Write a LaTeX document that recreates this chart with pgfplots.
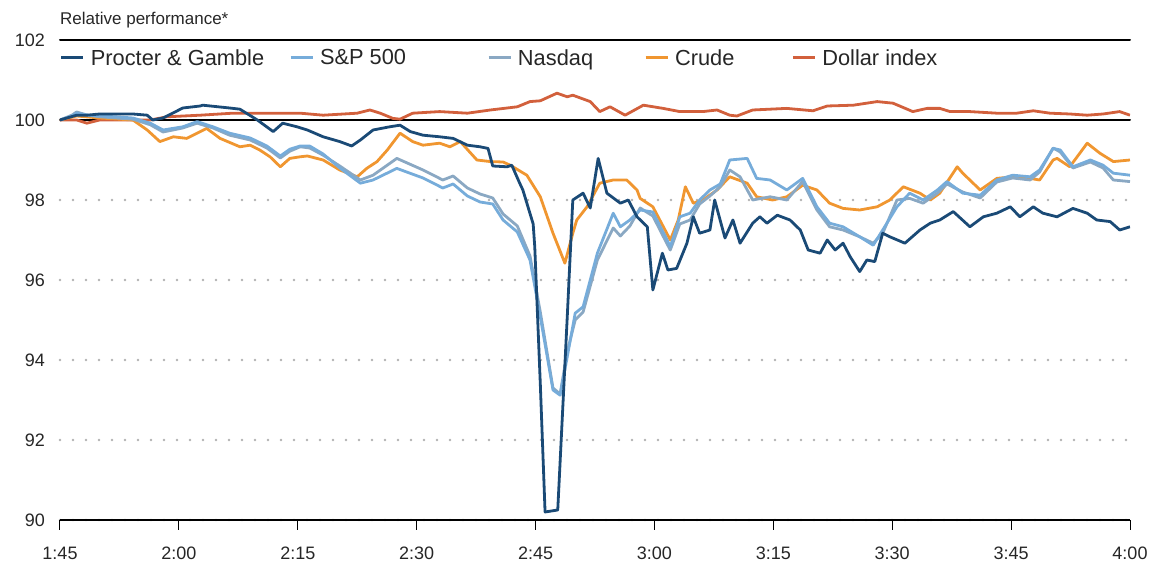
\documentclass[border=0pt]{standalone}
\usepackage{fontspec}
\setmainfont{Liberation Sans}
\usepackage{pgfplots}
\pgfplotsset{compat=1.18}
\definecolor{pgc}{RGB}{26,74,118}
\definecolor{spc}{RGB}{118,172,218}
\definecolor{ndc}{RGB}{138,168,195}
\definecolor{crc}{RGB}{240,150,48}
\definecolor{dlc}{RGB}{210,96,60}
\begin{document}
\begin{tikzpicture}
\begin{axis}[
  name=ax,
  width=1070pt, height=480pt, scale only axis,
  xmin=0, xmax=135, ymin=90, ymax=102,
  axis lines*=left, axis line style={-},
  y axis line style={draw=none},
  x axis line style={line width=2pt, black},
  xtick={0,15,...,135},
  xticklabels={1:45,2:00,2:15,2:30,2:45,3:00,3:15,3:30,3:45,4:00},
  ytick={90,92,94,96,98},
  extra y ticks={100,102},
  extra y tick style={grid=major, major grid style={draw=black, solid, line width=2pt}},
  ymajorgrids,
  major grid style={draw=black!30, line width=2.6pt, line cap=round, dash pattern=on 0pt off 13pt},
  tick align=outside,
  major tick length=10pt,
  xtick style={black, line width=1pt},
  ytick style={draw=none},
  /pgf/number format/assume math mode=true,
  yticklabel style={anchor=east, inner sep=0pt, xshift=-5pt, font=\fontsize{18}{20}\selectfont, text=black!85},
  xticklabel style={anchor=north, inner sep=0pt, yshift=-17pt, font=\fontsize{18}{20}\selectfont, text=black!85},
  title={Relative performance*},
  title style={at={(0,1)}, anchor=base west, yshift=9pt, inner sep=0pt, font=\fontsize{17}{20}\selectfont, text=black!85},
  legend image code/.code={\draw[#1, line width=3pt] (0pt,0pt) -- (22pt,0pt); \path (28pt,0pt);},
  legend style={at={(0,0.9625)}, anchor=west, draw=none, fill=none, inner sep=0pt, outer sep=0pt,
    font=\fontsize{21.8}{24}\selectfont, text=black!85, legend columns=5, nodes={inner sep=0pt},
    column sep=0pt},
  legend cell align=left,
  reverse legend,
  every axis plot/.append style={line width=2.8pt, line join=round},
]
% Dollar index
\addplot[dlc] coordinates {(0,100.0)(2.1,100.0)(3.4,99.92)(5.0,100.0)(11.4,100.0)(13.5,100.08)(17.7,100.12)(21.8,100.17)(26.1,100.17)(30.3,100.17)(33.2,100.12)(37.5,100.17)(39.1,100.25)(40.4,100.17)(42.0,100.04)(42.9,100.02)(44.5,100.17)(47.9,100.21)(51.4,100.17)(54.3,100.25)(57.7,100.33)(59.3,100.46)(60.6,100.48)(62.7,100.67)(64.0,100.58)(64.7,100.62)(66.9,100.46)(68.1,100.21)(69.4,100.33)(71.3,100.12)(73.6,100.37)(76.1,100.29)(78.2,100.21)(81.1,100.21)(82.9,100.25)(84.5,100.12)(85.4,100.1)(87.4,100.25)(91.7,100.29)(95.0,100.23)(96.8,100.35)(100.1,100.37)(103.1,100.46)(105.1,100.42)(107.6,100.21)(109.4,100.29)(111.0,100.29)(112.3,100.21)(114.8,100.21)(118.2,100.17)(120.7,100.17)(122.8,100.23)(124.9,100.17)(127.4,100.15)(129.6,100.12)(131.6,100.15)(133.7,100.21)(135.0,100.12)};
\addlegendentry{Dollar index}
% Crude
\addplot[crc] coordinates {(0,100.0)(2.1,100.1)(5,100.05)(9.2,100.0)(11.0,99.75)(12.6,99.46)(14.3,99.58)(16.0,99.54)(18.5,99.79)(20.2,99.54)(22.7,99.33)(24.0,99.37)(25.2,99.25)(26.5,99.08)(27.8,98.83)(29.0,99.04)(30.3,99.08)(31.2,99.1)(33.2,99.0)(35.3,98.75)(37.5,98.58)(38.7,98.79)(40.0,98.96)(41.3,99.25)(42.9,99.67)(44.5,99.46)(45.8,99.37)(47.9,99.42)(49.2,99.33)(50.5,99.46)(52.6,99.0)(54.3,98.96)(55.9,98.95)(56.8,98.87)(58.9,98.62)(60.6,98.08)(62.2,97.17)(63.7,96.42)(64.7,97.17)(65.2,97.5)(66.5,97.83)(68.1,98.42)(69.8,98.5)(71.5,98.5)(72.8,98.25)(73.2,98.04)(74.8,97.83)(77.0,97.0)(78.0,97.5)(78.9,98.33)(79.9,97.92)(81.1,98.0)(82.9,98.25)(84.5,98.58)(86.7,98.42)(87.9,98.08)(89.9,98.0)(91.7,98.08)(93.7,98.37)(95.5,98.25)(97.1,97.92)(98.8,97.79)(100.9,97.75)(103.1,97.83)(104.7,98.0)(106.4,98.33)(108.5,98.17)(109.8,98.0)(111.0,98.17)(113.2,98.83)(113.9,98.67)(116.1,98.25)(118.2,98.54)(120.2,98.58)(122.4,98.54)(123.6,98.5)(125.3,99.0)(125.8,99.04)(127.4,98.83)(129.6,99.42)(131.2,99.17)(132.9,98.96)(135.0,99.0)};
\addlegendentry{Crude\rule{57pt}{0pt}}
% Nasdaq
\addplot[ndc] coordinates {(0,100.0)(1.5,100.12)(2.1,100.2)(3.5,100.12)(5,100.08)(7,100.05)(9.2,100.02)(11.4,99.88)(13.0,99.7)(15.5,99.8)(17.3,99.92)(19.3,99.8)(21.4,99.62)(24.0,99.5)(26.1,99.3)(27.8,99.05)(29.0,99.22)(30.3,99.33)(31.5,99.3)(33.2,99.12)(35.3,98.85)(37.9,98.5)(39.5,98.62)(42.5,99.04)(45.8,98.75)(48.3,98.5)(49.6,98.6)(51.4,98.3)(53.0,98.15)(54.6,98.05)(55.9,97.65)(57.7,97.35)(59.3,96.6)(60.6,95.2)(62.2,93.3)(63.1,93.15)(64.0,94.2)(65.0,95.0)(66.0,95.2)(67.8,96.5)(69.8,97.3)(70.7,97.1)(71.9,97.35)(73.2,97.8)(74.8,97.6)(76.6,96.9)(77.0,96.75)(78.2,97.4)(79.5,97.5)(80.7,97.9)(82.0,98.1)(83.3,98.33)(84.5,98.75)(85.8,98.58)(87.4,98.0)(89.6,98.08)(91.7,98.0)(93.7,98.46)(95.5,97.75)(97.1,97.33)(98.8,97.25)(100.9,97.08)(102.6,96.92)(103.8,97.17)(105.6,98.0)(107.2,98.04)(108.9,97.92)(110.7,98.17)(111.9,98.4)(113.9,98.2)(116.1,98.05)(118.2,98.45)(120.2,98.55)(122.4,98.5)(123.6,98.7)(125.3,99.3)(126.2,99.2)(127.8,98.8)(130.0,98.95)(131.6,98.8)(132.9,98.5)(135.0,98.46)};
\addlegendentry{Nasdaq\rule{51pt}{0pt}}
% S&P 500
\addplot[spc] coordinates {(0,100.0)(1.5,100.1)(2.1,100.17)(3.5,100.12)(5,100.1)(7,100.08)(9.2,100.05)(11.4,99.92)(13.0,99.75)(15.5,99.83)(17.3,99.96)(19.3,99.83)(21.4,99.67)(24.0,99.55)(26.1,99.35)(27.8,99.1)(29.0,99.27)(30.3,99.35)(31.5,99.35)(33.2,99.15)(35.3,98.8)(37.9,98.42)(39.5,98.5)(42.5,98.79)(45.8,98.55)(48.3,98.3)(49.6,98.4)(51.4,98.1)(53.0,97.95)(54.6,97.9)(55.9,97.5)(57.7,97.2)(59.3,96.5)(60.6,95.08)(62.2,93.25)(63.1,93.12)(64.0,94.08)(65.0,95.17)(66.0,95.33)(67.8,96.67)(69.8,97.67)(70.7,97.33)(71.9,97.5)(73.2,97.75)(74.8,97.7)(76.6,97.0)(77.0,96.83)(78.2,97.58)(79.5,97.67)(80.7,98.0)(82.0,98.25)(83.3,98.4)(84.5,99.0)(86.7,99.04)(87.9,98.54)(89.6,98.5)(91.7,98.25)(93.7,98.54)(95.5,97.83)(97.1,97.42)(98.8,97.33)(100.9,97.08)(102.6,96.87)(103.8,97.25)(105.6,97.83)(107.2,98.17)(108.9,98.0)(110.7,98.25)(111.9,98.46)(113.9,98.17)(116.1,98.12)(118.2,98.5)(120.2,98.62)(122.4,98.58)(123.6,98.75)(125.3,99.29)(126.2,99.25)(127.8,98.83)(130.0,99.0)(131.6,98.87)(132.9,98.67)(135.0,98.62)};
\addlegendentry{S\&P 500\rule{81pt}{0pt}}
% Procter & Gamble
\addplot[pgc] coordinates {(0,100.0)(2.1,100.12)(3.4,100.12)(5,100.15)(9.2,100.15)(11.0,100.12)(11.7,100.0)(13.0,100.05)(15.5,100.3)(17.7,100.35)(18.0,100.37)(21.4,100.3)(22.7,100.27)(24.9,100.0)(26.9,99.71)(28.1,99.92)(29.9,99.83)(31.2,99.75)(33.2,99.58)(35.3,99.46)(36.8,99.35)(37.9,99.5)(39.5,99.75)(41.6,99.83)(42.9,99.87)(44.2,99.71)(45.8,99.62)(47.9,99.58)(49.6,99.54)(51.4,99.37)(53.0,99.33)(54.0,99.29)(54.6,98.85)(56.4,98.83)(57.0,98.87)(58.0,98.42)(58.4,98.25)(59.7,97.4)(59.9,96.83)(60.6,93.4)(61.2,90.2)(62.8,90.25)(64.0,95.08)(64.7,98.0)(66.0,98.17)(66.9,97.8)(67.9,99.04)(69.0,98.17)(70.7,97.92)(71.7,98.0)(72.8,97.58)(74.1,97.33)(74.8,95.75)(76.0,96.67)(76.7,96.25)(77.8,96.29)(79.1,96.92)(79.9,97.58)(80.7,97.17)(82.0,97.25)(82.6,98.0)(83.9,97.05)(84.9,97.5)(85.8,96.92)(87.4,97.42)(88.3,97.58)(89.2,97.42)(90.5,97.62)(92.1,97.5)(93.4,97.25)(94.4,96.75)(95.9,96.67)(96.8,97.0)(97.8,96.75)(98.8,96.92)(99.7,96.58)(100.9,96.21)(101.8,96.5)(102.8,96.46)(103.8,97.17)(104.7,97.08)(106.6,96.92)(108.5,97.25)(109.8,97.42)(111.0,97.5)(112.7,97.71)(114.8,97.33)(116.5,97.58)(118.2,97.67)(119.9,97.83)(121.1,97.58)(122.8,97.83)(124.0,97.67)(125.8,97.58)(127.8,97.79)(129.6,97.67)(130.8,97.5)(132.5,97.46)(133.7,97.25)(135.0,97.33)};
\addlegendentry{Procter \& Gamble\rule{25pt}{0pt}}
\end{axis}
\pgfresetboundingbox
\path[use as bounding box] ([xshift=-60pt,yshift=-49pt]ax.south west) rectangle ++(1157pt,569pt);
\end{tikzpicture}
\end{document}
